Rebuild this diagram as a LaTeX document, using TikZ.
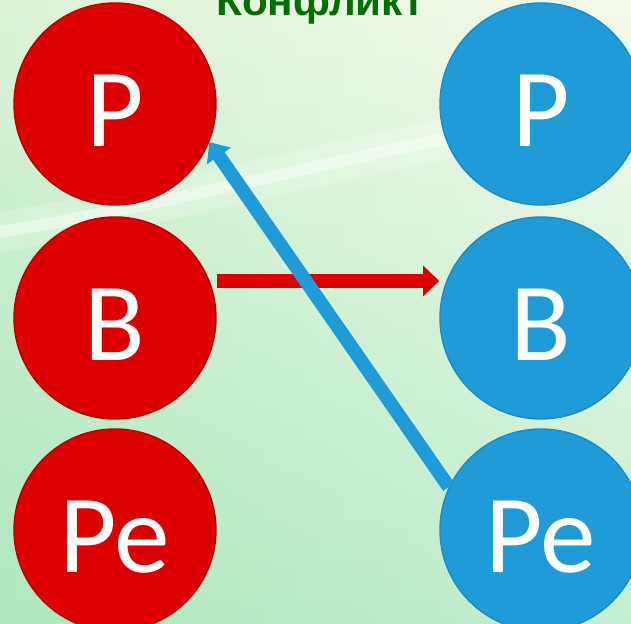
\documentclass[tikz,border=0pt]{standalone}
\usepackage{fontspec}
\setmainfont{Carlito}
\newfontfamily\titlefont{Liberation Sans}
\usetikzlibrary{arrows.meta}

\definecolor{ballred}{RGB}{221,0,0}
\definecolor{ballblue}{RGB}{31,156,215}
\definecolor{titlegreen}{RGB}{0,110,0}
\definecolor{bgtop}{RGB}{240,247,226}
\definecolor{bgbottom}{RGB}{172,232,190}

\tikzset{
    ball/.style={circle, minimum size=2.02cm, inner sep=0pt, text=white,
        font=\fontsize{31.7}{38}\selectfont, text height=24.4pt, text depth=0pt},
    redball/.style={ball, fill=ballred, draw=ballred!85!black, line width=0.4pt},
    blueball/.style={ball, fill=ballblue, draw=ballblue!90!black, line width=0.4pt},
    redarrow/.style={draw=ballred, line width=4.25pt, -{Triangle[width=8.5pt, length=4.6pt]}},
    bluearrow/.style={draw=ballblue, line width=3.9pt, -{Triangle[width=8pt, length=4.8pt]}}
}

\begin{document}
\begin{tikzpicture}
    \useasboundingbox (0, 0) rectangle (6.31, -6.24);
    \clip (0, 0) rectangle (6.31, -6.24);

    % Background
    \shade[top color=bgtop, bottom color=bgbottom] (0, 0) rectangle (6.31, -6.24);
    \shade[left color=bgbottom, right color=white, opacity=0.3] (0, 0) rectangle (6.31, -6.24);
    \draw[white, opacity=0.2, line width=0.4cm, line cap=round]
        (0, -2.32) .. controls (2, -2.0) and (4.2, -1.35) .. (6.31, -1.05);
    \draw[white, opacity=0.4, line width=0.12cm, line cap=round]
        (0, -2.32) .. controls (2, -2.0) and (4.2, -1.35) .. (6.31, -1.05);

    % Title
    \node[anchor=base, text=titlegreen, font=\titlefont\bfseries\fontsize{12}{14}\selectfont]
        (title) at (3.20, -0.16) {Конфликт};

    % Left column
    \node[redball] (rP) at (1.15, -1.04) {P};
    \node[redball] (rB) at (1.15, -3.18) {B};
    \node[redball] (rPe) at (1.15, -5.30) {Pe};

    % Right column
    \node[blueball] (bP) at (5.41, -1.04) {P};
    \node[blueball] (bB) at (5.41, -3.18) {B};
    \node[blueball] (bPe) at (5.41, -5.30) {Pe};

    % Arrows
    \draw[redarrow] ([yshift=0.37cm]rB.east) -- ([yshift=0.37cm]bB.west);
    \draw[bluearrow] (bPe.155) -- (rP.-22);

\end{tikzpicture}
\end{document}
